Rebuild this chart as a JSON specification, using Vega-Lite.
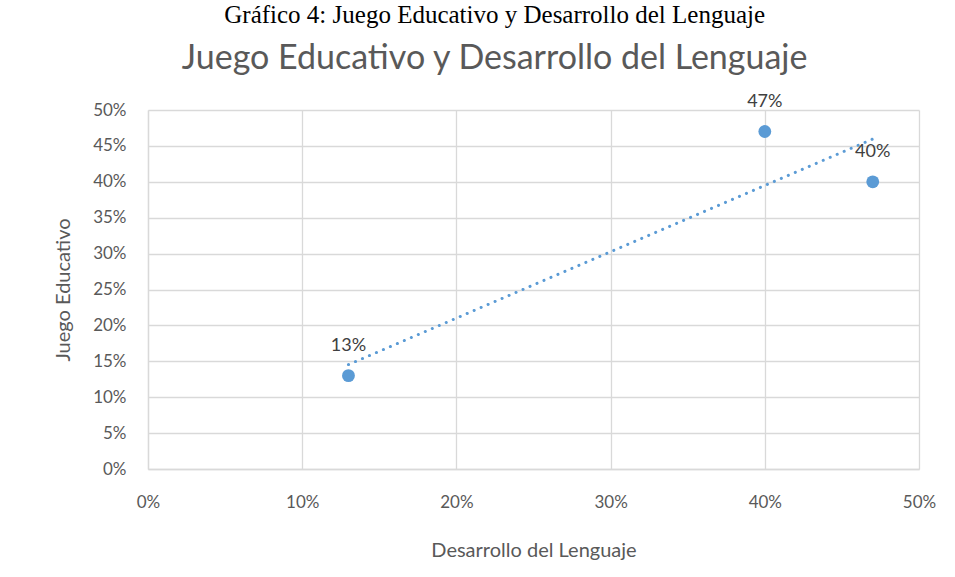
{
  "$schema": "https://vega.github.io/schema/vega-lite/v6.json",
  "autosize": "none",
  "width": 771,
  "height": 359,
  "padding": {"left": 148, "top": 110, "right": 36, "bottom": 108},
  "background": "white",
  "title": {
    "text": "Gráfico  4: Juego  Educativo  y Desarrollo  del Lenguaje",
    "subtitle": "Juego Educativo y Desarrollo del Lenguaje",
    "font": "Liberation Serif",
    "fontSize": 25,
    "fontWeight": "normal",
    "color": "#000000",
    "subtitleFont": "Lato",
    "subtitleFontSize": 34,
    "subtitleColor": "#595959",
    "subtitlePadding": 14,
    "anchor": "middle",
    "frame": "bounds",
    "offset": 17
  },
  "data": {
    "values": [
      {"x": 0.13, "y": 0.13, "label": "13%"},
      {"x": 0.40, "y": 0.47, "label": "47%"},
      {"x": 0.47, "y": 0.40, "label": "40%"}
    ]
  },
  "encoding": {
    "x": {
      "field": "x", "type": "quantitative",
      "scale": {"domain": [0, 0.5], "nice": false},
      "axis": {"format": ".0%", "values": [0, 0.1, 0.2, 0.3, 0.4, 0.5], "title": "Desarrollo del Lenguaje", "titlePadding": 30, "labelFlush": false, "labelOverlap": false, "labelBound": false}
    },
    "y": {
      "field": "y", "type": "quantitative",
      "scale": {"domain": [0, 0.5], "nice": false},
      "axis": {"format": ".0%", "values": [0, 0.05, 0.1, 0.15, 0.2, 0.25, 0.3, 0.35, 0.4, 0.45, 0.5], "title": "Juego Educativo", "titlePadding": 19, "labelFlush": false, "labelOverlap": false}
    }
  },
  "layer": [
    {
      "transform": [{"regression": "y", "on": "x"}],
      "mark": {"type": "line", "color": "#5b9bd5", "strokeWidth": 3, "strokeDash": [0.1, 7.5], "strokeCap": "round"}
    },
    {
      "mark": {"type": "circle", "color": "#5b9bd5", "opacity": 1, "size": 165}
    },
    {
      "mark": {"type": "text", "dy": -30, "fontSize": 18, "font": "Lato", "color": "#404040"},
      "encoding": {"text": {"field": "label"}}
    }
  ],
  "config": {
    "view": {"stroke": null},
    "axis": {
      "labelFont": "Lato",
      "labelFontSize": 17,
      "labelColor": "#595959",
      "titleFont": "Lato",
      "titleFontSize": 20,
      "titleFontWeight": "normal",
      "titleColor": "#595959",
      "gridColor": "#d9d9d9",
      "gridWidth": 1.3,
      "domainColor": "#d9d9d9",
      "domainWidth": 1.3,
      "ticks": false
    },
    "axisX": {"labelPadding": 25},
    "axisY": {"labelPadding": 22}
  }
}
